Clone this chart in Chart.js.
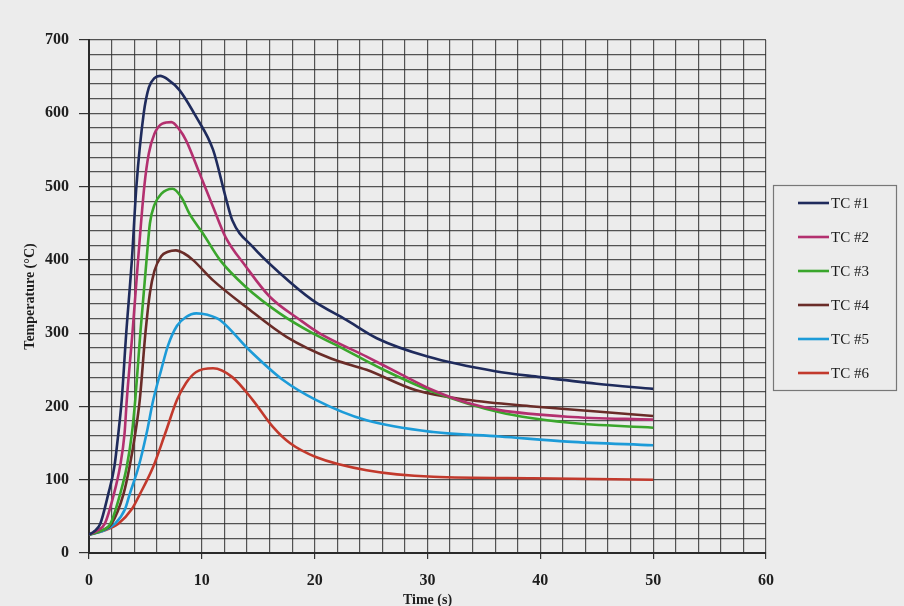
<!DOCTYPE html>
<html>
<head>
<meta charset="utf-8">
<script src="https://cdn.jsdelivr.net/npm/chart.js@4.4.1/dist/chart.umd.min.js"></script>
<style>
html,body{margin:0;padding:0;background:#ececec;}
#wrap{position:relative;width:904px;height:606px;}
</style>
</head>
<body>
<div id="wrap"><canvas id="c" width="904" height="606"></canvas></div>
<script>
// ---- data ----
const seriesLabels = ['TC #1', 'TC #2', 'TC #3', 'TC #4', 'TC #5', 'TC #6'];
const seriesColors = ['#1f2b5c', '#b3306f', '#3aa62c', '#6a2c28', '#1c9bd8', '#c2392c'];

const tc1Time = [0, 0.5, 1.0, 1.7, 2.25, 2.6, 2.9, 3.3, 3.8, 4.2, 4.85, 5.3, 5.8, 6.3, 7.0, 8.0, 9.5, 11.0, 12.1, 12.7, 14.5, 16.9, 19.8, 22.8, 25.5, 30, 36, 40, 45, 50];
const tc1Temp = [25, 30, 40, 80, 118, 163, 209, 300, 400, 500, 600, 635, 648, 651, 646, 632, 595, 550, 486, 454, 418, 382, 345, 318, 293, 268, 248, 240, 231, 224];

const tc2Time = [0, 0.7, 1.4, 2.2, 2.75, 3.15, 3.35, 3.85, 4.35, 4.9, 5.3, 5.8, 6.5, 7.3, 8.0, 8.6, 9.8, 11.0, 12.1, 13.9, 16.0, 18.7, 20.4, 24.6, 27.5, 30.5, 33.5, 36.4, 42.4, 50];
const tc2Temp = [25, 30, 40, 80, 118, 163, 209, 300, 400, 500, 545, 572, 586, 588, 578, 563, 518, 472, 431, 391, 350, 318, 300, 268, 245, 222, 205, 195, 186, 182];

const tc3Time = [0, 1.0, 1.9, 2.75, 3.35, 3.8, 4.1, 4.55, 5.1, 5.4, 5.8, 6.4, 7.4, 8.2, 8.9, 10.1, 11.6, 13.9, 16.9, 19.8, 22.0, 26.1, 30.5, 36.4, 42.4, 50];
const tc3Temp = [25, 30, 40, 80, 118, 163, 209, 300, 400, 450, 475, 490, 497, 485, 463, 436, 400, 363, 327, 300, 283, 250, 220, 192, 178, 171];

const tc4Time = [0, 1.0, 2.0, 3.05, 3.6, 4.1, 4.5, 5.0, 5.4, 5.8, 6.4, 7.0, 7.7, 8.4, 9.2, 11.0, 13.9, 17.5, 21.5, 24.6, 29.0, 33.5, 39.4, 45, 50];
const tc4Temp = [25, 30, 40, 80, 118, 163, 209, 300, 355, 385, 405, 411, 413, 409, 400, 372, 336, 295, 265, 250, 222, 209, 200, 193, 187];

const tc5Time = [0, 1.2, 2.3, 3.2, 3.6, 4.4, 5.1, 5.7, 6.4, 7.0, 7.8, 8.6, 9.5, 10.5, 11.6, 14.2, 17.2, 20.1, 24.6, 30.5, 36.4, 42.4, 50];
const tc5Temp = [25, 30, 40, 60, 80, 118, 163, 209, 250, 283, 310, 322, 327, 325, 318, 277, 236, 209, 181, 165, 159, 152, 147];

const tc6Time = [0, 1.4, 2.6, 3.8, 4.5, 5.7, 6.75, 7.8, 8.6, 9.5, 11.0, 12.7, 14.5, 16.3, 17.8, 20.1, 24.6, 30.5, 39.4, 50];
const tc6Temp = [25, 31, 40, 60, 80, 118, 163, 209, 232, 247, 252, 240, 209, 172, 150, 131, 113, 104, 102, 100];

const xTickLabels = [0, 10, 20, 30, 40, 50, 60];
const yTickLabels = [0, 100, 200, 300, 400, 500, 600, 700];

const seriesTimes = [tc1Time, tc2Time, tc3Time, tc4Time, tc5Time, tc6Time];
const seriesTemps = [tc1Temp, tc2Temp, tc3Temp, tc4Temp, tc5Temp, tc6Temp];

const datasets = seriesLabels.map((lab, i) => ({
  label: lab,
  data: seriesTimes[i].map((t, j) => ({x: t, y: seriesTemps[i][j]})),
  borderColor: seriesColors[i],
  backgroundColor: seriesColors[i],
  borderWidth: 2.6,
  pointRadius: 0,
  fill: false,
  cubicInterpolationMode: 'monotone'
}));

const serif = 'Liberation Serif, Times New Roman, serif';

const legendBox = {
  id: 'legendBox',
  afterDraw(chart) {
    const ctx = chart.ctx;
    ctx.save();
    ctx.strokeStyle = '#777';
    ctx.lineWidth = 1.2;
    ctx.strokeRect(773.5, 185.5, 123, 205);
    ctx.font = '15px ' + serif;
    ctx.textBaseline = 'middle';
    ctx.fillStyle = '#1a1a1a';
    chart.data.datasets.forEach((ds, i) => {
      const y = 203 + i * 34;
      ctx.strokeStyle = ds.borderColor;
      ctx.lineWidth = 2.6;
      ctx.beginPath();
      ctx.moveTo(798, y);
      ctx.lineTo(829, y);
      ctx.stroke();
      ctx.fillText(ds.label, 831, y + 1);
    });
    ctx.restore();
  }
};

new Chart(document.getElementById('c'), {
  type: 'line',
  data: {datasets},
  plugins: [legendBox],
  options: {
    responsive: false,
    animation: false,
    devicePixelRatio: 1,
    layout: {padding: {left: 18, right: 138, top: 40, bottom: 0}},
    plugins: {legend: {display: false}, tooltip: {enabled: false}},
    scales: {
      x: {
        type: 'linear', min: 0, max: 60,
        afterFit: s => { s.height = 53; },
        ticks: {
          stepSize: 2, autoSkip: false, maxRotation: 0, padding: 12,
          color: '#1e1e1e',
          font: {family: serif, size: 16, weight: 'bold'},
          callback: v => xTickLabels.includes(v) ? String(v) : ''
        },
        grid: {
          color: 'rgba(45,45,45,0.8)', lineWidth: 1.2, tickLength: 6,
          tickColor: c => (c.tick && xTickLabels.includes(c.tick.value)) ? '#333' : 'rgba(0,0,0,0)'
        },
        border: {color: '#2a2a2a', width: 2},
        title: {display: true, text: 'Time (s)', color: '#1e1e1e', padding: {top: 0, bottom: -3},
          font: {family: serif, size: 14, weight: 'bold'}}
      },
      y: {
        min: 0, max: 700,
        afterFit: s => { s.width = 71; },
        ticks: {
          stepSize: 20, autoSkip: false, padding: 10,
          color: '#1e1e1e',
          font: {family: serif, size: 16, weight: 'bold'},
          callback: v => yTickLabels.includes(v) ? String(v) : ''
        },
        grid: {
          color: 'rgba(45,45,45,0.8)', lineWidth: 1.2, tickLength: 10,
          tickColor: c => (c.tick && yTickLabels.includes(c.tick.value)) ? '#333' : 'rgba(0,0,0,0)'
        },
        border: {color: '#2a2a2a', width: 2},
        title: {display: true, text: 'Temperature (°C)', color: '#1e1e1e', padding: 4,
          font: {family: serif, size: 14, weight: 'bold'}}
      }
    }
  }
});
</script>
</body>
</html>
